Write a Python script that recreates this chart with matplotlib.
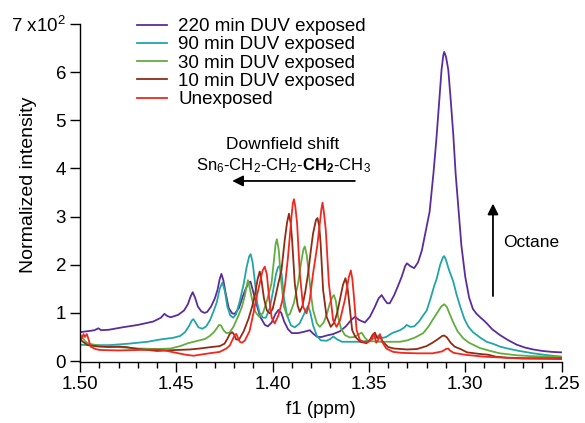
import matplotlib
matplotlib.use("Agg")
import matplotlib.pyplot as plt
import numpy as np

# ==========================================
# FONTS
# ==========================================

plt.rcParams["font.family"] = ["Liberation Sans", "DejaVu Sans"]
plt.rcParams["mathtext.fontset"] = "custom"
plt.rcParams["mathtext.rm"] = "Liberation Sans"
plt.rcParams["mathtext.bf"] = "Liberation Sans:bold"
plt.rcParams["mathtext.it"] = "Liberation Sans:italic"

# ==========================================
# DATA  (ppm, normalized intensity x10^2)
# ==========================================

labels = [
    "220 min DUV exposed",
    "90 min DUV exposed",
    "30 min DUV exposed",
    "10 min DUV exposed",
    "Unexposed",
]

colors = ["#5a2d9c", "#23a5a8", "#62ad40", "#8e2c16", "#f0281e"]

spec_220 = [
    (1.5000, 0.60), (1.4960, 0.62), (1.4925, 0.64), (1.4905, 0.68), (1.4890, 0.64),
    (1.4850, 0.65), (1.4780, 0.70), (1.4700, 0.75), (1.4620, 0.82), (1.4580, 0.90),
    (1.4562, 0.98), (1.4545, 0.93), (1.4528, 0.91), (1.4490, 0.96), (1.4460, 1.05),
    (1.4440, 1.18), (1.4427, 1.33), (1.4415, 1.43), (1.4403, 1.32), (1.4388, 1.13),
    (1.4370, 1.03), (1.4354, 1.00), (1.4340, 1.02), (1.4320, 1.13), (1.4300, 1.30),
    (1.4286, 1.48), (1.4275, 1.70), (1.4266, 1.81), (1.4256, 1.68), (1.4244, 1.41),
    (1.4228, 1.10), (1.4210, 0.99), (1.4197, 0.98), (1.4175, 1.10), (1.4155, 1.34),
    (1.4140, 1.50), (1.4125, 1.62), (1.4115, 1.65), (1.4105, 1.50), (1.4090, 1.27),
    (1.4065, 0.92), (1.4040, 0.75), (1.4025, 0.72), (1.4005, 0.80), (1.3985, 0.98),
    (1.3970, 1.06), (1.3955, 1.00), (1.3940, 0.82), (1.3920, 0.66), (1.3900, 0.58),
    (1.3870, 0.58), (1.3845, 0.60), (1.3825, 0.62), (1.3807, 0.64), (1.3790, 0.57),
    (1.3768, 0.50), (1.3745, 0.50), (1.3720, 0.53), (1.3686, 0.56), (1.3650, 0.62),
    (1.3620, 0.72), (1.3595, 0.84), (1.3573, 0.92), (1.3550, 0.85), (1.3521, 0.80),
    (1.3495, 0.92), (1.3470, 1.12), (1.3450, 1.30), (1.3434, 1.37), (1.3420, 1.28),
    (1.3405, 1.20), (1.3392, 1.20), (1.3370, 1.36), (1.3350, 1.55), (1.3330, 1.75),
    (1.3312, 1.97), (1.3303, 2.03), (1.3285, 1.97), (1.3265, 1.93), (1.3245, 2.05),
    (1.3225, 2.30), (1.3205, 2.70), (1.3185, 3.10), (1.3165, 3.90), (1.3150, 4.60),
    (1.3135, 5.40), (1.3123, 6.05), (1.3114, 6.35), (1.3109, 6.42), (1.3100, 6.32),
    (1.3088, 6.05), (1.3075, 5.40), (1.3062, 4.70), (1.3050, 3.90), (1.3036, 3.20),
    (1.3020, 2.40), (1.3000, 1.75), (1.2980, 1.32), (1.2960, 1.08), (1.2941, 0.98),
    (1.2920, 0.90), (1.2900, 0.83), (1.2885, 0.77), (1.2860, 0.66), (1.2840, 0.60),
    (1.2820, 0.54), (1.2780, 0.44), (1.2733, 0.34), (1.2690, 0.28), (1.2647, 0.24),
    (1.2600, 0.21), (1.2550, 0.19), (1.2500, 0.18),
]

spec_90 = [
    (1.5000, 0.34), (1.4950, 0.33), (1.4850, 0.33), (1.4750, 0.36), (1.4650, 0.40),
    (1.4580, 0.45), (1.4520, 0.48), (1.4480, 0.52), (1.4455, 0.60), (1.4435, 0.72),
    (1.4420, 0.84), (1.4412, 0.87), (1.4400, 0.80), (1.4385, 0.70), (1.4365, 0.67),
    (1.4345, 0.72), (1.4325, 0.85), (1.4305, 1.05), (1.4290, 1.22), (1.4275, 1.50),
    (1.4261, 1.63), (1.4248, 1.45), (1.4235, 1.13), (1.4220, 0.95), (1.4205, 0.90),
    (1.4190, 0.97), (1.4170, 1.25), (1.4150, 1.61), (1.4135, 1.95), (1.4122, 2.17),
    (1.4114, 2.22), (1.4104, 2.05), (1.4093, 1.68), (1.4080, 1.20), (1.4067, 1.00),
    (1.4050, 0.90), (1.4035, 0.90), (1.4015, 1.10), (1.3998, 1.45), (1.3983, 1.80),
    (1.3972, 1.95), (1.3963, 1.98), (1.3953, 1.80), (1.3941, 1.30), (1.3925, 0.95),
    (1.3905, 0.74), (1.3885, 0.70), (1.3860, 0.78), (1.3840, 0.95), (1.3825, 1.08),
    (1.3816, 1.14), (1.3805, 1.02), (1.3790, 0.74), (1.3770, 0.52), (1.3750, 0.43),
    (1.3720, 0.42), (1.3700, 0.46), (1.3685, 0.51), (1.3665, 0.45), (1.3640, 0.40),
    (1.3600, 0.40), (1.3550, 0.40), (1.3500, 0.42), (1.3470, 0.48), (1.3448, 0.53),
    (1.3430, 0.48), (1.3410, 0.50), (1.3380, 0.58), (1.3339, 0.64), (1.3315, 0.70),
    (1.3305, 0.75), (1.3285, 0.71), (1.3265, 0.72), (1.3240, 0.82), (1.3218, 0.95),
    (1.3200, 1.05), (1.3180, 1.30), (1.3162, 1.55), (1.3149, 1.70), (1.3130, 2.00),
    (1.3115, 2.16), (1.3109, 2.18), (1.3100, 2.10), (1.3085, 1.90), (1.3062, 1.65),
    (1.3045, 1.38), (1.3026, 1.13), (1.3005, 0.88), (1.2985, 0.72), (1.2960, 0.60),
    (1.2920, 0.48), (1.2889, 0.40), (1.2850, 0.35), (1.2820, 0.30), (1.2780, 0.26),
    (1.2720, 0.21), (1.2647, 0.16), (1.2570, 0.12), (1.2500, 0.09),
]

spec_30 = [
    (1.5000, 0.55), (1.4985, 0.47), (1.4970, 0.40), (1.4955, 0.36), (1.4900, 0.32),
    (1.4800, 0.29), (1.4700, 0.26), (1.4600, 0.25), (1.4530, 0.26), (1.4480, 0.31),
    (1.4440, 0.37), (1.4400, 0.41), (1.4350, 0.46), (1.4327, 0.52), (1.4305, 0.60),
    (1.4290, 0.68), (1.4278, 0.75), (1.4268, 0.74), (1.4255, 0.64), (1.4240, 0.58),
    (1.4225, 0.59), (1.4205, 0.70), (1.4180, 0.92), (1.4160, 1.12), (1.4145, 1.35),
    (1.4135, 1.55), (1.4128, 1.68), (1.4118, 1.50), (1.4105, 1.25), (1.4090, 1.02),
    (1.4070, 0.92), (1.4050, 1.00), (1.4030, 1.25), (1.4006, 1.61), (1.3993, 2.10),
    (1.3985, 2.42), (1.3978, 2.53), (1.3968, 2.30), (1.3958, 1.75), (1.3941, 1.13),
    (1.3925, 0.94), (1.3910, 0.98), (1.3890, 1.20), (1.3868, 1.61), (1.3850, 2.10),
    (1.3840, 2.32), (1.3833, 2.38), (1.3823, 2.20), (1.3812, 1.82), (1.3800, 1.35),
    (1.3790, 1.06), (1.3770, 0.78), (1.3755, 0.71), (1.3735, 0.80), (1.3715, 1.02),
    (1.3703, 1.20), (1.3690, 1.33), (1.3682, 1.37), (1.3672, 1.25), (1.3660, 0.92),
    (1.3645, 0.68), (1.3625, 0.54), (1.3600, 0.49), (1.3575, 0.50), (1.3555, 0.55),
    (1.3538, 0.59), (1.3522, 0.49), (1.3505, 0.42), (1.3450, 0.40), (1.3400, 0.40),
    (1.3339, 0.40), (1.3300, 0.43), (1.3260, 0.49), (1.3218, 0.58), (1.3190, 0.72),
    (1.3170, 0.85), (1.3149, 0.98), (1.3125, 1.13), (1.3109, 1.18), (1.3095, 1.12),
    (1.3080, 0.97), (1.3062, 0.80), (1.3040, 0.62), (1.3010, 0.47), (1.2980, 0.38),
    (1.2924, 0.27), (1.2870, 0.21), (1.2820, 0.16), (1.2733, 0.12), (1.2650, 0.10),
    (1.2500, 0.09),
]

spec_10 = [
    (1.5000, 0.45), (1.4985, 0.40), (1.4960, 0.33), (1.4900, 0.30), (1.4850, 0.29),
    (1.4800, 0.30), (1.4760, 0.29), (1.4700, 0.25), (1.4600, 0.21), (1.4500, 0.23),
    (1.4430, 0.24), (1.4379, 0.26), (1.4320, 0.29), (1.4275, 0.31), (1.4250, 0.36),
    (1.4235, 0.46), (1.4223, 0.56), (1.4210, 0.60), (1.4200, 0.55), (1.4190, 0.45),
    (1.4175, 0.44), (1.4150, 0.62), (1.4125, 0.88), (1.4105, 1.15), (1.4090, 1.42),
    (1.4078, 1.70), (1.4067, 1.86), (1.4057, 1.65), (1.4045, 1.30), (1.4030, 1.05),
    (1.4015, 0.99), (1.4000, 1.08), (1.3989, 1.27), (1.3970, 1.62), (1.3954, 1.89),
    (1.3937, 2.52), (1.3925, 2.88), (1.3915, 3.06), (1.3906, 2.85), (1.3899, 2.52),
    (1.3885, 1.61), (1.3870, 1.15), (1.3859, 1.02), (1.3845, 1.15), (1.3830, 1.45),
    (1.3816, 1.82), (1.3800, 2.35), (1.3790, 2.65), (1.3775, 2.93), (1.3767, 2.97),
    (1.3758, 2.80), (1.3751, 2.45), (1.3738, 1.48), (1.3720, 0.92), (1.3698, 0.71),
    (1.3680, 0.80), (1.3665, 1.00), (1.3651, 1.27), (1.3635, 1.58), (1.3622, 1.72),
    (1.3612, 1.55), (1.3604, 1.27), (1.3587, 0.64), (1.3570, 0.50), (1.3545, 0.40),
    (1.3513, 0.37), (1.3495, 0.44), (1.3480, 0.55), (1.3469, 0.59), (1.3458, 0.48),
    (1.3448, 0.48), (1.3440, 0.50), (1.3428, 0.40), (1.3400, 0.29), (1.3370, 0.26),
    (1.3300, 0.24), (1.3250, 0.25), (1.3201, 0.31), (1.3170, 0.38), (1.3140, 0.46),
    (1.3120, 0.52), (1.3109, 0.53), (1.3095, 0.49), (1.3076, 0.38), (1.3055, 0.30),
    (1.3020, 0.24), (1.2990, 0.18), (1.2930, 0.15), (1.2880, 0.13), (1.2840, 0.09),
    (1.2780, 0.07), (1.2700, 0.06), (1.2500, 0.06),
]

spec_0 = [
    (1.5000, 0.40), (1.4990, 0.48), (1.4982, 0.56), (1.4975, 0.50), (1.4965, 0.56),
    (1.4958, 0.48), (1.4945, 0.30), (1.4920, 0.25), (1.4899, 0.23), (1.4800, 0.22),
    (1.4700, 0.23), (1.4600, 0.24), (1.4560, 0.22), (1.4500, 0.17), (1.4450, 0.13),
    (1.4410, 0.11), (1.4379, 0.13), (1.4330, 0.16), (1.4275, 0.19), (1.4240, 0.26),
    (1.4223, 0.32), (1.4205, 0.47), (1.4196, 0.55), (1.4188, 0.56), (1.4180, 0.48),
    (1.4170, 0.40), (1.4160, 0.38), (1.4145, 0.42), (1.4120, 0.62), (1.4100, 0.99),
    (1.4085, 1.30), (1.4067, 1.61), (1.4052, 1.88), (1.4041, 1.96), (1.4030, 1.80),
    (1.4018, 1.30), (1.4005, 0.90), (1.3989, 0.78), (1.3970, 0.95), (1.3950, 1.25),
    (1.3935, 1.60), (1.3920, 2.17), (1.3902, 3.00), (1.3895, 3.28), (1.3889, 3.36),
    (1.3882, 3.20), (1.3873, 2.86), (1.3859, 1.82), (1.3842, 1.13), (1.3824, 0.99),
    (1.3808, 1.25), (1.3790, 1.82), (1.3768, 2.40), (1.3755, 2.86), (1.3747, 3.15),
    (1.3741, 3.29), (1.3734, 3.10), (1.3724, 2.72), (1.3708, 1.61), (1.3686, 0.85),
    (1.3668, 0.71), (1.3650, 0.85), (1.3625, 1.27), (1.3604, 1.75), (1.3594, 1.88),
    (1.3586, 1.70), (1.3578, 1.34), (1.3564, 0.64), (1.3547, 0.44), (1.3530, 0.40),
    (1.3500, 0.40), (1.3485, 0.47), (1.3474, 0.56), (1.3462, 0.38), (1.3452, 0.44),
    (1.3443, 0.56), (1.3432, 0.40), (1.3410, 0.26), (1.3374, 0.19), (1.3330, 0.17),
    (1.3250, 0.16), (1.3170, 0.16), (1.3120, 0.20), (1.3100, 0.25), (1.3088, 0.26),
    (1.3080, 0.22), (1.3060, 0.17), (1.3000, 0.13), (1.2900, 0.09), (1.2800, 0.07),
    (1.2700, 0.05), (1.2500, 0.04),
]

spectra = [spec_220, spec_90, spec_30, spec_10, spec_0]

x_ticks = [1.50, 1.45, 1.40, 1.35, 1.30, 1.25]
y_ticks = [0, 1, 2, 3, 4, 5, 6, 7]
y_tick_labels = ["0", "1", "2", "3", "4", "5", "6", r"7 x10$^{2}$"]

# ==========================================
# PLOT
# ==========================================

fig = plt.figure(figsize=(5.85, 4.23), dpi=100)
ax = fig.add_axes([0.1368, 0.1442, 0.8231, 0.7991])

for spec, color, label in zip(spectra, colors, labels):
    arr = np.array(spec)
    ax.plot(arr[:, 0], arr[:, 1], color=color, lw=1.3, label=label)

ax.set_xlim(1.50, 1.25)
ax.set_ylim(-0.02, 7.0)

ax.set_xticks(x_ticks)
ax.set_xticklabels([f"{t:.2f}" for t in x_ticks])
ax.set_xticks(np.arange(1.25, 1.5001, 0.01), minor=True)
ax.set_yticks(y_ticks)
ax.set_yticklabels(y_tick_labels)

ax.spines["top"].set_visible(False)
ax.spines["right"].set_visible(False)
ax.spines["left"].set_linewidth(1.0)
ax.spines["bottom"].set_linewidth(1.0)

ax.tick_params(axis="both", which="major", direction="out",
               length=7, width=1, labelsize=13.5, pad=3)
ax.tick_params(axis="x", which="minor", direction="out",
               length=4, width=1)

ax.set_xlabel("f1 (ppm)", fontsize=13.5, labelpad=6)
ax.set_ylabel("Normalized intensity", fontsize=14)
ax.yaxis.set_label_coords(-0.089, 0.524)

ax.legend(
    loc="upper left",
    bbox_to_anchor=(137 / 585, 1 - 18 / 423),
    bbox_transform=fig.transFigure,
    frameon=False,
    fontsize=13.5,
    handlelength=1.6,
    handletextpad=0.6,
    labelspacing=0.06,
    borderpad=0,
    borderaxespad=0,
)

# ==========================================
# ANNOTATIONS
# ==========================================

ax.text(1.3948, 4.50, "Downfield shift", ha="center", va="center", fontsize=12.5)
ax.text(1.3942, 4.06, r"Sn$_6$-CH$_2$-CH$_2$-$\mathbf{CH_2}$-CH$_3$",
        ha="center", va="center", fontsize=12)

ax.annotate("", xy=(1.4210, 3.74), xytext=(1.3573, 3.74),
            arrowprops=dict(arrowstyle="-|>", color="black", lw=1.3,
                            mutation_scale=16, shrinkA=0, shrinkB=0))

ax.annotate("", xy=(1.2856, 3.27), xytext=(1.2856, 1.35),
            arrowprops=dict(arrowstyle="-|>", color="black", lw=1.3,
                            mutation_scale=16, shrinkA=0, shrinkB=0))
ax.text(1.2804, 2.47, "Octane", ha="left", va="center", fontsize=12.5)

plt.savefig("out.png", dpi=100)
plt.close()
